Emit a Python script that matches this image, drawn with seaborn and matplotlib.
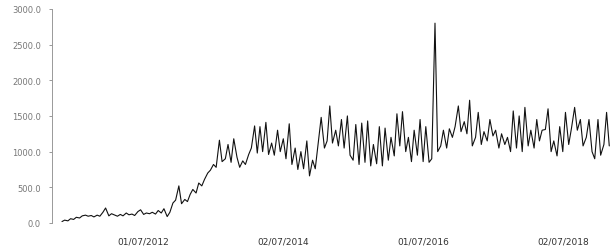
import pandas as pd
import matplotlib
matplotlib.use('Agg')
import matplotlib.pyplot as plt
import matplotlib.dates as mdates
import matplotlib.ticker as mticker
import seaborn as sns

# valores (quinzenais, a partir de 05/2011)
inicio = '2011-05-01'
valores = [
    20, 40, 30, 60, 50, 80, 70, 100, 110, 95,
    105, 85, 110, 95, 150, 210, 100, 130, 110, 95,
    120, 100, 140, 115, 125, 105, 160, 185, 120, 140,
    130, 150, 125, 175, 140, 200, 90, 150, 280, 320,
    520, 270, 330, 300, 400, 470, 420, 560, 520, 610,
    700, 740, 820, 780, 1160, 860, 900, 1100, 850, 1180,
    920, 780, 870, 820, 960, 1050, 1360, 980, 1350, 1000,
    1410, 960, 1120, 950, 1300, 1000, 1180, 900, 1390, 820,
    1050, 750, 1000, 760, 1150, 660, 880, 760, 1150, 1480,
    1050, 1150, 1640, 1120, 1300, 1080, 1450, 1050, 1500, 950,
    880, 1380, 820, 1400, 850, 1430, 800, 1100, 830, 1350,
    800, 1330, 880, 1200, 940, 1530, 1080, 1560, 1000, 1200,
    860, 1300, 950, 1450, 860, 1350, 850, 900, 2800, 1000,
    1080, 1300, 1050, 1320, 1200, 1350, 1640, 1280, 1420, 1250,
    1720, 1080, 1200, 1550, 1100, 1280, 1150, 1450, 1220, 1300,
    1050, 1250, 1100, 1200, 1000, 1570, 1050, 1500, 1000, 1620,
    1080, 1300, 1050, 1450, 1150, 1300, 1310, 1600, 1000, 1150,
    940, 1350, 1000, 1550, 1100, 1320, 1620, 1300, 1450, 1080,
    1200, 1450, 1000, 900, 1450, 950, 1100, 1550, 1080,
]
datas = pd.date_range(inicio, periods=len(valores), freq='SMS')

marcas_x = ['2012-07-01', '2014-07-02', '2016-07-01', '2018-07-02']
marcas_y = [0, 500, 1000, 1500, 2000, 2500, 3000]

df = pd.DataFrame({'Data': datas, 'Valor': valores})

sns.set_style('white')
plt.rcParams['font.family'] = ['DejaVu Sans']

fig = plt.figure(figsize=(6.15, 2.51), dpi=100)
ax = fig.add_axes([0.0846, 0.1076, 0.9154, 0.853])

sns.lineplot(data=df, x='Data', y='Valor', ax=ax, color='#111111',
             linewidth=0.8, clip_on=False)

ax.set_xlim(pd.Timestamp('2011-03-10'), pd.Timestamp('2019-03-31'))
ax.set_ylim(0, 3000)

ax.set_xticks(pd.to_datetime(marcas_x))
ax.xaxis.set_major_formatter(mdates.DateFormatter('%d/%m/%Y'))
ax.set_yticks(marcas_y)
ax.yaxis.set_major_formatter(mticker.FormatStrFormatter('%.1f'))

ax.tick_params(axis='x', length=0, labelsize=6.5, labelcolor='#333333', pad=10)
ax.tick_params(axis='y', length=2, width=0.6, color='#888888',
               labelsize=6, labelcolor='#777777', pad=6, left=True)

for lado in ['top', 'right', 'bottom']:
    ax.spines[lado].set_visible(False)
ax.spines['left'].set_color('#999999')
ax.spines['left'].set_linewidth(0.7)
ax.spines['left'].set_linestyle((0, (1, 1)))

ax.set_xlabel('')
ax.set_ylabel('')

fig.savefig('out.png', dpi=100)
